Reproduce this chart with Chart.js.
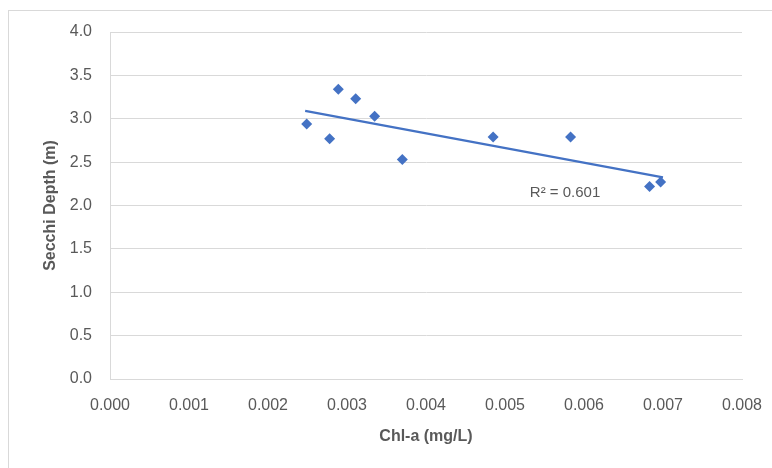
<!DOCTYPE html>
<html>
<head>
<meta charset="utf-8">
<script src="https://cdn.jsdelivr.net/npm/chart.js@4"></script>
<style>
  html, body { margin: 0; padding: 0; background: #fff; }
  #wrap { width: 772px; height: 468px; position: relative; }
</style>
</head>
<body>
<div id="wrap"><canvas id="chart" width="772" height="468"></canvas></div>
<script>
// observed points
const chlA   = [0.00249, 0.00278, 0.00289, 0.00311, 0.00335, 0.00370, 0.00485, 0.00583, 0.00683, 0.00697];
const secchi = [2.94, 2.77, 3.34, 3.23, 3.03, 2.53, 2.79, 2.79, 2.22, 2.27];

// linear trendline ends
const trendX = [0.00247, 0.00700];
const trendY = [3.09, 2.325];

const rSquaredText = "R² = 0.601";
const rSquaredAt = [0.00576, 2.14];

const xMin = 0, xMax = 0.008, xStep = 0.001;
const yMin = 0, yMax = 4, yStep = 0.5;

const grey = '#595959';
const blue = '#4472C4';
const font = "'Liberation Sans', Arial, sans-serif";

// outer chart frame (only the top/left edges show in the crop)
const framePlugin = {
  id: 'frame',
  beforeDraw(chart) {
    const ctx = chart.ctx;
    ctx.save();
    ctx.strokeStyle = '#d9d9d9';
    ctx.lineWidth = 1;
    ctx.strokeRect(8.5, 10.5, 800, 500);
    ctx.restore();
  }
};

// the R² label
const r2Plugin = {
  id: 'r2label',
  afterDatasetsDraw(chart) {
    const ctx = chart.ctx;
    const px = chart.scales.x.getPixelForValue(rSquaredAt[0]);
    const py = chart.scales.y.getPixelForValue(rSquaredAt[1]);
    ctx.save();
    ctx.font = '15px ' + font;
    ctx.fillStyle = grey;
    ctx.textAlign = 'center';
    ctx.textBaseline = 'middle';
    ctx.fillText(rSquaredText, px, py);
    ctx.restore();
  }
};

new Chart(document.getElementById('chart'), {
  type: 'scatter',
  data: {
    datasets: [
      {
        label: 'Secchi',
        data: chlA.map((x, i) => ({x: x, y: secchi[i]})),
        pointStyle: 'rectRot',
        pointRadius: 5.5,
        pointHoverRadius: 5.5,
        backgroundColor: blue,
        borderColor: blue,
        borderWidth: 0,
        order: 1
      },
      {
        label: 'Linear',
        type: 'line',
        data: trendX.map((x, i) => ({x: x, y: trendY[i]})),
        borderColor: blue,
        borderWidth: 2.25,
        pointRadius: 0,
        fill: false,
        order: 2
      }
    ]
  },
  options: {
    responsive: false,
    animation: false,
    layout: { padding: { left: 37, right: 30, top: 32, bottom: 18 } },
    plugins: {
      legend: { display: false },
      tooltip: { enabled: false }
    },
    scales: {
      x: {
        type: 'linear',
        min: xMin, max: xMax,
        grid: { display: false },
        border: { display: true, color: '#d9d9d9', width: 1 },
        ticks: {
          stepSize: xStep,
          color: grey,
          font: { family: font, size: 16 },
          padding: 9,
          callback: v => v.toFixed(3)
        },
        title: {
          display: true,
          text: 'Chl-a (mg/L)',
          color: grey,
          font: { family: font, size: 16, weight: 'bold' },
          padding: { top: 18 }
        },
        afterFit: s => { s.height = 71; }
      },
      y: {
        type: 'linear',
        min: yMin, max: yMax,
        grid: { color: '#d9d9d9', drawTicks: false },
        border: { display: true, color: '#d9d9d9', width: 1 },
        ticks: {
          stepSize: yStep,
          color: grey,
          font: { family: font, size: 16 },
          padding: 18,
          callback: v => v.toFixed(1)
        },
        title: {
          display: true,
          text: 'Secchi Depth (m)',
          color: grey,
          font: { family: font, size: 16, weight: 'bold' },
          padding: { bottom: 6 }
        },
        afterFit: s => { s.width = 73; }
      }
    }
  },
  plugins: [framePlugin, r2Plugin]
});
</script>
</body>
</html>
